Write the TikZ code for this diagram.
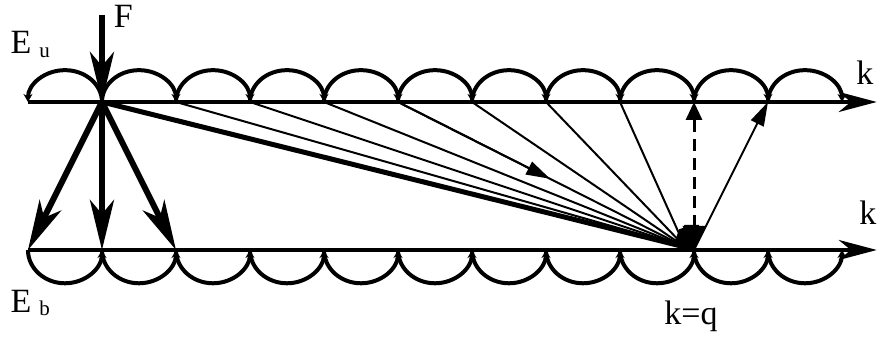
\documentclass[tikz,border=0pt]{standalone}
\usepackage{fontspec}
\setmainfont{Liberation Serif}
\usepackage{tikz}
\usetikzlibrary{arrows.meta,calc}

\tikzset{
  bandAxis/.style={line width=2pt,-{Stealth[length=19pt,width=10pt,inset=6pt]}},
  hopArc/.style={line width=2pt,-{Stealth[length=4pt,width=4.5pt]}},
  kickArrow/.style={line width=3pt,-{Stealth[length=25pt,width=12pt,inset=7pt]}},
  fanLine/.style={line width=1pt},
  etiket/.style={inner sep=0pt,font=\fontsize{17}{19}\selectfont}
}

\begin{document}
\begin{tikzpicture}[x=37pt,y=37pt]
\useasboundingbox (-0.378,-1.189) rectangle (11.527,3.378);
\foreach \i in {0,...,11}{
  \coordinate (u\i) at (\i,2);
  \coordinate (b\i) at (\i,0);
}
\coordinate (ku) at (11.47,2); \coordinate (kb) at (11.47,0);
\coordinate (f) at (1,3.18); \coordinate (q) at (9,0);
\coordinate (qFan) at (8.88,0.04);
\draw[bandAxis] (u0)--(ku); \draw[bandAxis] (b0)--(kb);
\draw[hopArc] (u1) arc[start angle=0,end angle=180,x radius=0.5,y radius=0.43];
\foreach \i in {1,...,10}
  \draw[hopArc] (u\i) arc[start angle=180,end angle=0,x radius=0.5,y radius=0.43];
\foreach \i in {0,...,10}
  \draw[hopArc] (b\i) arc[start angle=180,end angle=360,x radius=0.5,y radius=0.45];
\draw[kickArrow] (f)--(u1);
\foreach \j in {0,1,2} \draw[kickArrow] (u1)--(b\j);
\draw[line width=2.5pt] (u1)--(qFan);
\foreach \i in {2,...,8} \draw[fanLine] (u\i)--(qFan);
\draw[fanLine,-{Triangle[length=12pt,width=7pt]}] (u5)--($(u5)!0.53!(qFan)$);
\fill (8.72,0.06) -- (8.8,0.28) -- (8.86,0.3) -- (8.87,0.34) -- (9.07,0.34) -- (q) -- cycle;
\draw[line width=1.5pt,dash pattern=on 6pt off 3.5pt,{Triangle[length=12pt,width=11pt]}-{Triangle[length=9pt,width=8pt]}] (q)--(u9);
\draw[fanLine,-{Triangle[length=12pt,width=7pt]}] (q)--(u10);
\node[etiket,anchor=base] (fLbl) at (1.29,3.0) {F};
\node[etiket,anchor=base west] (eu) at (-0.24,2.66) {E\hspace{4pt}\raisebox{-2pt}{\fontsize{10.5}{12}\selectfont u}};
\node[etiket,anchor=base west] (eb) at (-0.24,-0.85) {E\hspace{4pt}\raisebox{-1.5pt}{\fontsize{10.5}{12}\selectfont b}};
\node[etiket,anchor=base] (kUst) at (11.31,2.23) {k};
\node[etiket,anchor=base] (kAlt) at (11.35,0.34) {k};
\node[etiket,anchor=base] (kq) at (8.96,-1.01) {k=q};
\end{tikzpicture}
\end{document}
